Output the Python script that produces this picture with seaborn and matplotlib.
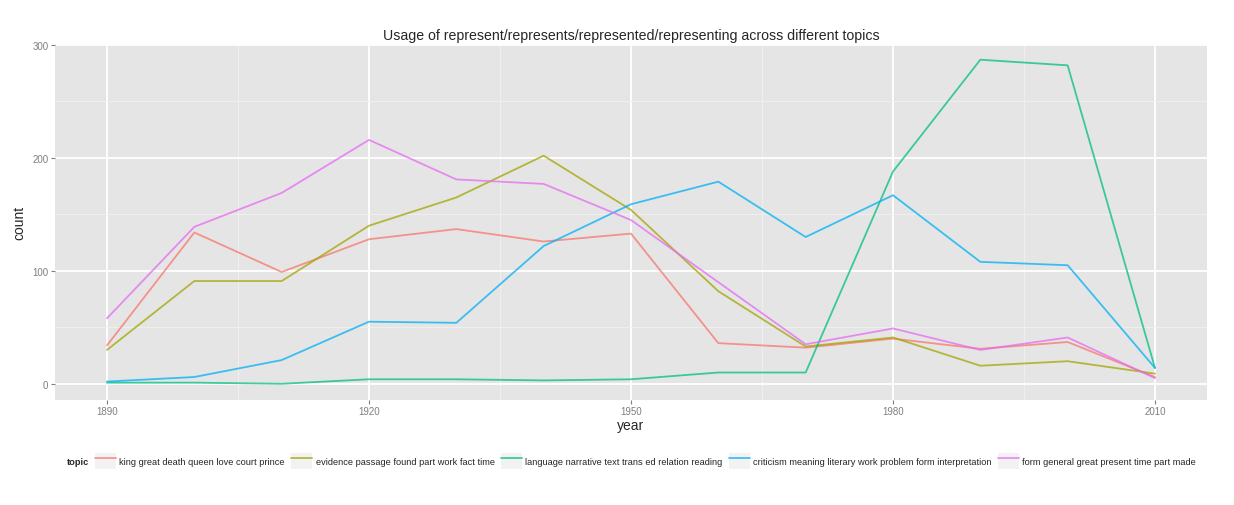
import pandas as pd
import numpy as np
import matplotlib.pyplot as plt
import seaborn as sns
from matplotlib.patches import Patch
from matplotlib.lines import Line2D
from matplotlib.ticker import MultipleLocator

years = [1890, 1900, 1910, 1920, 1930, 1940, 1950, 1960, 1970, 1980, 1990, 2000, 2010]
topics = ["king great death queen love court prince",
          "evidence passage found part work fact time",
          "language narrative text trans ed relation reading",
          "criticism meaning literary work problem form interpretation",
          "form general great present time part made"]
king = [34, 134, 99, 128, 137, 126, 133, 36, 32, 40, 31, 37, 6]
evidence = [30, 91, 91, 140, 165, 202, 154, 82, 33, 41, 16, 20, 9]
language = [1, 1, 0, 4, 4, 3, 4, 10, 10, 188, 287, 282, 14]
criticism = [2, 6, 21, 55, 54, 122, 159, 179, 130, 167, 108, 105, 14]
form = [58, 139, 169, 216, 181, 177, 145, 90, 35, 49, 30, 41, 5]
colors = ["#F8766D", "#A3A500", "#00BF7D", "#00B0F6", "#E76BF3"]

rows = []
for t, vals in zip(topics, [king, evidence, language, criticism, form]):
    for y, v in zip(years, vals):
        rows.append({"year": y, "count": v, "topic": t})
df = pd.DataFrame(rows)

sns.set_style("darkgrid", {"axes.facecolor": "#E5E5E5", "grid.color": "white"})
plt.rcParams['font.family'] = ['Liberation Sans', 'DejaVu Sans']

fig = plt.figure(figsize=(12.34, 5.06), dpi=100)
# panel placed like the ggplot original
ax = fig.add_axes([54.6/1234, 1 - 401/506, (1207.4-54.6)/1234, (401-44.5)/506])
sns.lineplot(data=df, x="year", y="count", hue="topic", palette=colors,
             linewidth=1.3, alpha=0.75, legend=False, ax=ax)

ax.set_xlim(1884, 2016)
ax.set_ylim(-14.35, 301.35)
ax.set_xticks([1890, 1920, 1950, 1980, 2010])
ax.set_yticks([0, 100, 200, 300])
ax.xaxis.set_minor_locator(MultipleLocator(15))
ax.yaxis.set_minor_locator(MultipleLocator(50))
ax.grid(which="major", color="white", linewidth=1.3)
ax.grid(which="minor", color="#F2F2F2", linewidth=0.6)
ax.set_axisbelow(True)
for s in ax.spines.values():
    s.set_visible(False)
ax.tick_params(which="major", bottom=True, left=True, length=3, width=0.8, color="#7F7F7F",
               labelsize=7, labelcolor="#7F7F7F", pad=1.5)
ax.tick_params(which="minor", length=0)
ax.set_xlabel("year", fontsize=10, labelpad=1)
ax.set_ylabel("count", fontsize=10, labelpad=4)
ax.set_title("Usage of represent/represents/represented/representing across different topics",
             fontsize=10.2, pad=3)

handles = [Line2D([], [], color="none")]
labels = ["topic"]
for t, c in zip(topics, colors):
    handles.append((Patch(facecolor="#F2F2F2", edgecolor="none"),
                    Line2D([], [], color=c, alpha=0.75, linewidth=1.3)))
    labels.append(t)
leg = fig.legend(handles, labels, loc="center", bbox_to_anchor=(619/1234, 1 - 462/506),
                 ncol=6, frameon=False, fontsize=6.7, handlelength=2.25, handleheight=2.4,
                 handletextpad=0.4, columnspacing=0.65)
leg.get_texts()[0].set_fontweight("bold")

fig.savefig("out.png", dpi=100)
